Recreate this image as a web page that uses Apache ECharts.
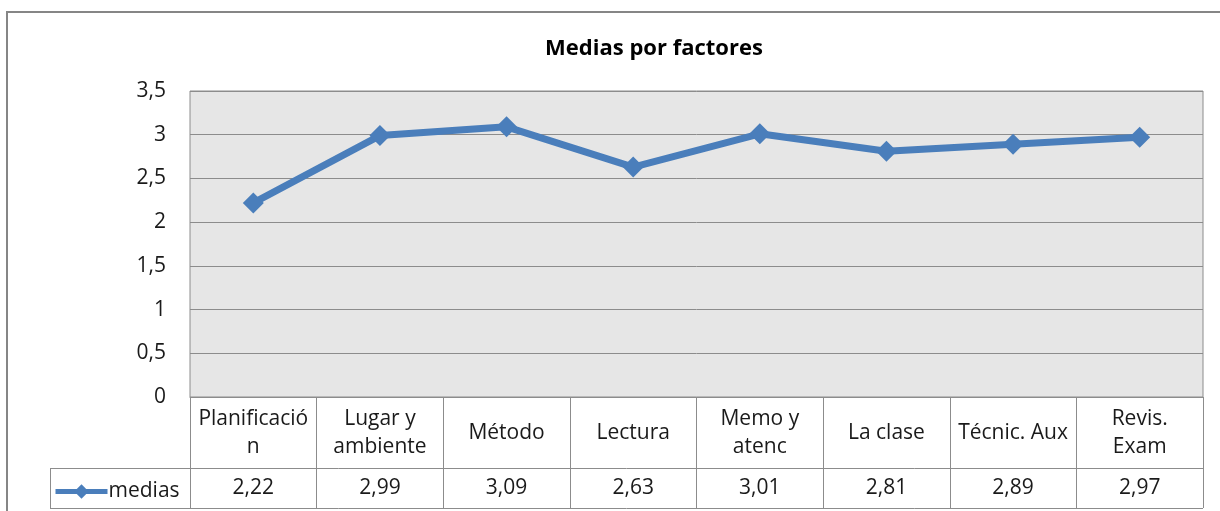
<!DOCTYPE html>
<html>
<head>
<meta charset="utf-8">
<script src="https://cdn.jsdelivr.net/npm/echarts@6/dist/echarts.min.js"></script>
<style>
  html, body { margin: 0; padding: 0; background: #fff; }
  #chart { width: 1220px; height: 511px; }
</style>
</head>
<body>
<div id="chart"></div>
<script>
const categories = ['Planificació\nn', 'Lugar y\nambiente', 'Método', 'Lectura', 'Memo y\natenc', 'La clase', 'Técnic. Aux', 'Revis.\nExam']
const medias = [2.22, 2.99, 3.09, 2.63, 3.01, 2.81, 2.89, 2.97]
const yTicks = [0, 0.5, 1, 1.5, 2, 2.5, 3, 3.5]

const fmt = v => String(v).replace('.', ',')
const font = 'Open Sans'
const gridColor = '#8c8c8c'
const txt = '#1a1a1a'

const myChart = echarts.init(document.getElementById('chart'))
const option = {
  backgroundColor: '#fff',
  title: {
    text: 'Medias por factores',
    left: 649,
    top: 33,
    textAlign: 'center',
    textStyle: { fontFamily: font, fontSize: 22, fontWeight: 'bold', color: '#000' }
  },
  grid: {
    left: 190,
    right: 17,
    top: 91,
    bottom: 114,
    show: true,
    backgroundColor: '#e6e6e6',
    borderColor: gridColor,
    borderWidth: 1
  },
  legend: {
    left: 48,
    top: 476,
    itemWidth: 52,
    itemHeight: 18,
    itemGap: 0,
    lineStyle: { width: 5 },
    textStyle: { fontFamily: font, fontSize: 21, color: txt, padding: [0, 0, 0, -4] }
  },
  xAxis: [
    {
      type: 'category',
      data: categories,
      boundaryGap: true,
      axisLine: { lineStyle: { color: gridColor } },
      axisTick: { show: true, length: 111, lineStyle: { color: gridColor } },
      axisLabel: {
        interval: 0,
        margin: 36,
        verticalAlign: 'middle',
        lineHeight: 28,
        fontFamily: font,
        fontSize: 21,
        color: txt
      }
    },
    {
      type: 'category',
      position: 'bottom',
      offset: 71,
      data: medias.map(fmt),
      axisLine: { show: false },
      axisTick: { show: false },
      axisLabel: {
        interval: 0,
        margin: 20,
        verticalAlign: 'middle',
        fontFamily: font,
        fontSize: 21,
        color: txt
      }
    }
  ],
  yAxis: {
    type: 'value',
    min: yTicks[0],
    max: yTicks[yTicks.length - 1],
    interval: 0.5,
    axisLine: { show: false },
    axisTick: { show: false },
    splitLine: { lineStyle: { color: gridColor, width: 1 } },
    axisLabel: {
      margin: 24,
      fontFamily: font,
      fontSize: 21,
      color: txt,
      formatter: v => fmt(v)
    }
  },
  series: [
    {
      name: 'medias',
      type: 'line',
      data: medias,
      symbol: 'diamond',
      symbolSize: 21,
      lineStyle: { width: 7, color: '#4a7ebb' },
      itemStyle: { color: '#4a7ebb' }
    }
  ],
  graphic: [
    // outer chart frame
    { type: 'rect', shape: { x: 7, y: 12, width: 1230, height: 520 }, style: { fill: 'none', stroke: '#868686', lineWidth: 2 }, silent: true },
    // data table rows
    { type: 'line', shape: { x1: 50, y1: 468.5, x2: 1203, y2: 468.5 }, style: { stroke: gridColor, lineWidth: 1 } },
    { type: 'line', shape: { x1: 50, y1: 508.5, x2: 1203, y2: 508.5 }, style: { stroke: gridColor, lineWidth: 1 } },
    { type: 'line', shape: { x1: 50.5, y1: 468, x2: 50.5, y2: 509 }, style: { stroke: gridColor, lineWidth: 1 } }
  ]
}
myChart.setOption(option)
</script>
</body>
</html>
